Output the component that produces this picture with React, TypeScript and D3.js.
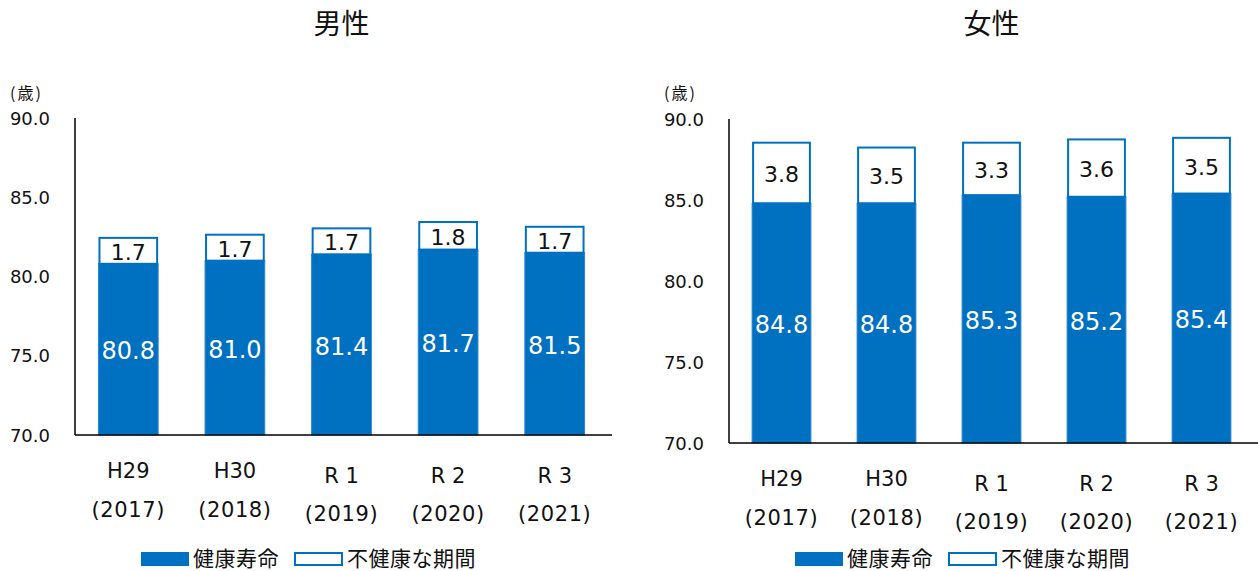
import React from 'react'
import * as d3 from 'd3'

const categories = ['H29', 'H30', 'R 1', 'R 2', 'R 3']
const years = ['(2017)', '(2018)', '(2019)', '(2020)', '(2021)']
const maleHealthy = [80.8, 81.0, 81.4, 81.7, 81.5]
const maleUnhealthy = [1.7, 1.7, 1.7, 1.8, 1.7]
const femaleHealthy = [84.8, 84.8, 85.3, 85.2, 85.4]
const femaleUnhealthy = [3.8, 3.5, 3.3, 3.6, 3.5]
const yTicks = [70, 75, 80, 85, 90]
const legendLabels = ['健康寿命', '不健康な期間']

const BLUE = '#0070C0'
const FONT = '"DejaVu Sans", Verdana, "Noto Sans CJK JP", sans-serif'
const JP = '"Noto Sans CJK JP", sans-serif'

type PanelProps = {
  title: string
  healthy: number[]
  unhealthy: number[]
  x0: number
  x1: number
  top: number
  bottom: number
}

function Panel({ title, healthy, unhealthy, x0, x1, top, bottom }: PanelProps) {
  const x = d3.scaleBand<string>().domain(categories).range([x0, x1]).paddingInner(0.44).paddingOuter(0.22)
  const y = d3.scaleLinear().domain([70, 90]).range([bottom, top])
  const bw = x.bandwidth()
  const fmt = d3.format('.1f')
  const lx = x0 + 66
  const ly = 552

  return (
    <g>
      <text x={(x0 + x1) / 2} y={22} textAnchor="middle" dominantBaseline="central" fontFamily={JP} fontSize={28} fill="#111">{title}</text>
      <text x={x0 - 65} y={92} dominantBaseline="central" fontFamily={JP} fontSize={16} letterSpacing={2} fill="#111">(歳)</text>
      {yTicks.map(t => (
        <text key={t} x={x0 - 25} y={y(t)} textAnchor="end" dominantBaseline="central" fontFamily={FONT} fontSize={18} fill="#111">{fmt(t)}</text>
      ))}
      {categories.map((c, i) => {
        const bx = x(c) as number
        const h = healthy[i]
        const u = unhealthy[i]
        return (
          <g key={c}>
            <rect x={bx} y={y(h)} width={bw} height={y(70) - y(h)} fill={BLUE} stroke="#2a86d2" strokeWidth={1} />
            <rect x={bx + 1} y={y(h + u) + 1} width={bw - 2} height={y(h) - y(h + u) - 1} fill="#fff" stroke={BLUE} strokeWidth={2} />
            <text x={bx + bw / 2} y={(y(h) + y(70)) / 2 + 2} textAnchor="middle" dominantBaseline="central" fontFamily={FONT} fontSize={24} fill="#fff">{fmt(h)}</text>
            <text x={bx + bw / 2} y={(y(h + u) + y(h)) / 2 + 2} textAnchor="middle" dominantBaseline="central" fontFamily={FONT} fontSize={22} fill="#111">{fmt(u)}</text>
            <text x={bx + bw / 2} y={bottom + 36 + (c.startsWith('R') ? 5 : 0)} textAnchor="middle" dominantBaseline="central" fontFamily={FONT} fontSize={21} fill="#111">{c}</text>
            <text x={bx + bw / 2} y={bottom + 75 + (c.startsWith('R') ? 4 : 0)} textAnchor="middle" dominantBaseline="central" fontFamily={FONT} fontSize={21} letterSpacing={0.6} fill="#111">{years[i]}</text>
          </g>
        )
      })}
      <line x1={x0} x2={x0} y1={top} y2={bottom} stroke="#000" strokeWidth={1.5} />
      <line x1={x0} x2={x1 + 4} y1={bottom} y2={bottom} stroke="#000" strokeWidth={1.5} />
      <rect x={lx} y={ly} width={48} height={14} fill={BLUE} />
      <text x={lx + 52} y={ly + 5} dominantBaseline="central" fontFamily={JP} fontSize={21} letterSpacing={0.5} fill="#111">{legendLabels[0]}</text>
      <rect x={lx + 154} y={ly + 1} width={47} height={12} fill="#fff" stroke={BLUE} strokeWidth={2} />
      <text x={lx + 206} y={ly + 5} dominantBaseline="central" fontFamily={JP} fontSize={21} letterSpacing={0.5} fill="#111">{legendLabels[1]}</text>
    </g>
  )
}

export default function App() {
  return (
    <svg width={1258} height={571} style={{ position: 'absolute', left: 0, top: 0, background: '#fff' }}>
      <Panel title="男性" healthy={maleHealthy} unhealthy={maleUnhealthy} x0={75} x1={608} top={118} bottom={435} />
      <Panel title="女性" healthy={femaleHealthy} unhealthy={femaleUnhealthy} x0={729} x1={1254} top={119} bottom={443} />
    </svg>
  )
}
